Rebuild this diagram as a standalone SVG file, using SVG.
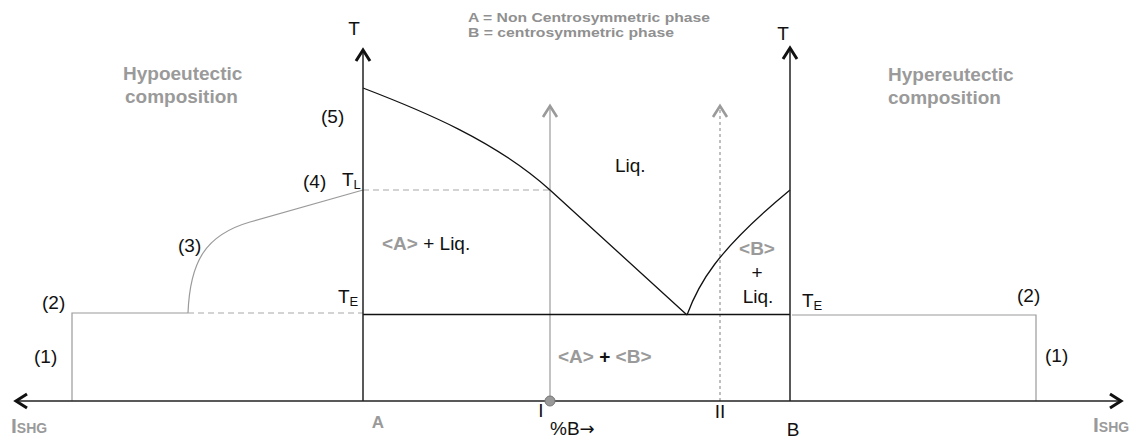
<svg xmlns="http://www.w3.org/2000/svg" width="1129" height="438" viewBox="0 0 1129 438">
<style>
text{font-family:"Liberation Sans",Arial,sans-serif;}
.lbl{font-size:19px;fill:#111;}
.gb{font-weight:bold;fill:#9a9a9a;}
.cap{font-weight:bold;fill:#909090;font-size:12.5px;}
.ax{stroke:#222;stroke-width:1.5;fill:none;}
.liq{stroke:#111;stroke-width:1.3;fill:none;}
.gl{stroke:#9a9a9a;stroke-width:1.2;fill:none;}
.gd{stroke:#a8a8a8;stroke-width:1.2;fill:none;stroke-dasharray:6 4;}
.gdot{stroke:#b0b0b0;stroke-width:1.6;fill:none;stroke-dasharray:3 3;}
</style>
<defs>
<marker id="chev" markerUnits="userSpaceOnUse" markerWidth="18" markerHeight="20" viewBox="-14 -10 18 20" refX="0" refY="0" orient="auto-start-reverse">
<path d="M-11,-7 L0,0 L-11,7" fill="none" stroke="#111" stroke-width="3"/>
</marker>
<marker id="chevg" markerUnits="userSpaceOnUse" markerWidth="18" markerHeight="20" viewBox="-14 -10 18 20" refX="0" refY="0" orient="auto">
<path d="M-11,-7 L0,0 L-11,7" fill="none" stroke="#9a9a9a" stroke-width="2.6"/>
</marker>
</defs>
<rect width="1129" height="438" fill="#fff"/>

<g id="connectors">
<path class="gl" d="M72,401 V313 H188"/>
<path class="gl" d="M188,313 C190,262 205,235 250,222 L363,190"/>
<path class="gd" d="M188,313 H363"/>
<path class="gd" d="M363,190 H550"/>
<path class="gl" d="M792,315 H1036 V401"/>
<path class="gl" d="M550,401 V106" marker-end="url(#chevg)"/>
<path class="gdot" d="M720,401 V106" marker-end="url(#chevg)"/>
<path class="liq" d="M363,88 C423,111 495,140.5 550,190 L687,315"/>
<path class="liq" d="M687,315 C698,285 715,252 790,190"/>
<path class="liq" d="M363,314.5 H790"/>
<path class="ax" d="M363,401 V50" marker-end="url(#chev)"/>
<path class="ax" d="M790,401 V48" marker-end="url(#chev)"/>
<path class="ax" d="M16,401 H1121" stroke="#444" marker-start="url(#chev)" marker-end="url(#chev)"/>
<circle cx="550" cy="401" r="5" fill="#999" stroke="#777" stroke-width="1"/>
</g>

<g id="caption">
<text class="cap" x="468" y="21.5" textLength="242" lengthAdjust="spacingAndGlyphs">A = Non Centrosymmetric phase</text>
<text class="cap" x="468" y="37" textLength="206" lengthAdjust="spacingAndGlyphs">B = centrosymmetric phase</text>
</g>

<g id="regions">
<text class="gb" x="123" y="80" font-size="19">Hypoeutectic</text>
<text class="gb" x="125" y="103" font-size="19">composition</text>
<text class="gb" x="888" y="81" font-size="19">Hypereutectic</text>
<text class="gb" x="888" y="104" font-size="19">composition</text>
<text class="lbl" x="615" y="172">Liq.</text>
<text class="lbl" x="382" y="250"><tspan class="gb">&lt;A&gt;</tspan> + Liq.</text>
<text class="lbl gb" x="757" y="255" text-anchor="middle">&lt;B&gt;</text>
<text class="lbl" x="757" y="279" text-anchor="middle">+</text>
<text class="lbl" x="758" y="303" text-anchor="middle">Liq.</text>
<text class="lbl" x="558" y="363"><tspan class="gb">&lt;A&gt;</tspan><tspan font-weight="bold"> + </tspan><tspan class="gb">&lt;B&gt;</tspan></text>
</g>

<g id="axis-labels">
<text class="lbl" x="354" y="35" font-size="15" text-anchor="middle">T</text>
<text class="lbl" x="783" y="40" font-size="15" text-anchor="middle">T</text>
<text class="lbl" x="342" y="186">T<tspan font-size="13" dy="3">L</tspan></text>
<text class="lbl" x="338" y="303">T<tspan font-size="13" dy="3">E</tspan></text>
<text class="lbl" x="802" y="307">T<tspan font-size="13" dy="3">E</tspan></text>
<text class="lbl" x="321" y="123">(5)</text>
<text class="lbl" x="303" y="188">(4)</text>
<text class="lbl" x="178" y="252">(3)</text>
<text class="lbl" x="42" y="309">(2)</text>
<text class="lbl" x="34" y="363">(1)</text>
<text class="lbl" x="1017" y="302">(2)</text>
<text class="lbl" x="1045" y="362">(1)</text>
<text class="gb" x="11" y="433" font-size="21">I<tspan font-size="14">SHG</tspan></text>
<text class="gb" x="1093" y="432" font-size="21">I<tspan font-size="14">SHG</tspan></text>
<text class="gb" x="378" y="428" font-size="17" text-anchor="middle">A</text>
<text class="lbl" x="541" y="417" font-size="17" text-anchor="middle">I</text>
<text class="lbl" x="720" y="418" font-size="17" text-anchor="middle">II</text>
<text class="lbl" x="550" y="435">%B<tspan font-family="'DejaVu Sans',sans-serif" font-size="18">→</tspan></text>
<text class="lbl" x="793" y="436" font-size="17" text-anchor="middle">B</text>
</g>
</svg>
